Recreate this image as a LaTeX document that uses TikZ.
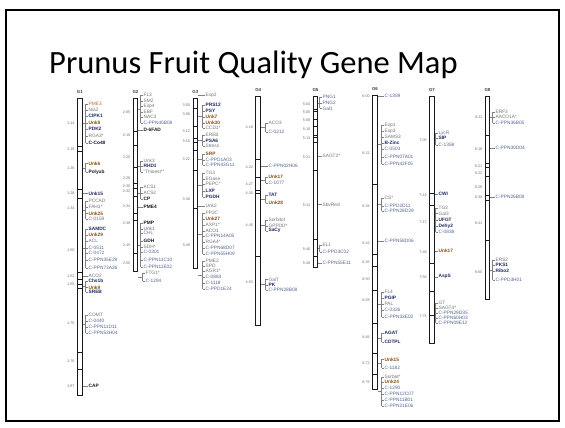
\documentclass[tikz,border=0pt]{standalone}
\usepackage{fontspec}
\setmainfont{Liberation Sans}
\newfontfamily\titlefont{Carlito}
\usepackage{xcolor}
\definecolor{mapblack}{RGB}{25,25,35}
\definecolor{mapnavy}{RGB}{30,40,100}
\definecolor{mapbrown}{RGB}{140,75,20}
\definecolor{maporange}{RGB}{190,100,50}
\definecolor{mapgray}{RGB}{115,115,115}
\definecolor{mapblue}{RGB}{85,100,145}
\usetikzlibrary{positioning, calc}
% one bracket of marker names next to a chromosome
\newcommand{\markset}[5]{%
  \foreach \y/\t/\s [count=\i] in {#5} {
    \node[marker, \s] (#1\i) at (#3,\y) {\t};
    \draw[link] (#1\i.west) -- ++(-2.4pt,0);
  }
  \draw[link] ([xshift=-2.4pt]#11.west) -- ([xshift=-2.4pt]#1#4.west);
  \coordinate (#1m) at ($(#11.west)!0.5!(#1#4.west)$);
  \draw[link] (#2.east |- #1m) -- ([xshift=-2.4pt]#1m);
}

\begin{document}
\begin{tikzpicture}[
    x=1pt, y=-1pt,
    frame/.style={draw=black, line width=1.6pt},
    chrom/.style={draw=mapblack, fill=white, line width=0.95pt, minimum width=4.5pt, inner sep=0pt},
    seg/.style={draw=mapblack, line width=0.5pt},
    grp/.style={font=\fontsize{4.4}{5}\selectfont\bfseries, text=mapblack!85, inner sep=0pt},
    binpos/.style={anchor=east, xshift=-2pt, font=\fontsize{3.8}{4}\selectfont, text=mapgray, inner sep=0.3pt},
    marker/.style={anchor=west, font=\fontsize{4.8}{5}\selectfont, inner sep=0.4pt, text=mapgray},
    dk/.style={text=mapblack, font=\fontsize{4.8}{5}\selectfont\bfseries},
    nv/.style={text=mapnavy, font=\fontsize{4.8}{5}\selectfont\bfseries},
    bn/.style={text=mapbrown, font=\fontsize{4.8}{5}\selectfont\bfseries},
    og/.style={text=maporange},
    gy/.style={text=mapgray},
    bu/.style={text=mapblue},
    link/.style={draw=mapgray!90, line width=0.35pt},
  ]
    \useasboundingbox (0,0) rectangle (565,428);
    \draw[frame] (6,10) rectangle (559,421);

    % --- Title ---
    \node[anchor=base west, inner sep=0pt, font=\titlefont\fontsize{32.5}{36}\selectfont] (title) at (49,74)
      {Prunus Fruit Quality Gene Map};

    % --- Chromosome bars ---
    \node[chrom, minimum height=297pt]   (g1bar) at (79.8,246.5) {};
    \node[chrom, minimum height=173.4pt] (g2bar) at (135.5,185) {};
    \node[chrom, minimum height=170pt]   (g3bar) at (195.3,183) {};
    \node[chrom, minimum height=229pt]   (g4bar) at (258.2,210.5) {};
    \node[chrom, minimum height=171.3pt] (g5bar) at (315.5,181.7) {};
    \node[chrom, minimum height=294pt]   (g6bar) at (375,242) {};
    \node[chrom, minimum height=247.3pt] (g7bar) at (432,219.7) {};
    \node[chrom, minimum height=203.3pt] (g8bar) at (487.5,198.3) {};

    \foreach \g in {1,...,8}
      \node[grp, above=4pt of g\g bar.north] (g\g) {G\g};

    % --- Bin boundaries ---
    \foreach \y in {146.7,151.7,189.3,198.3,272.7,279.3,284.3,288.3,352.7,369.3}
      \draw[seg] (g1bar.west |- 0,\y) -- (g1bar.east |- 0,\y);
    \foreach \y in {131,145,167,183,188,196,213,220.7,253.3}
      \draw[seg] (g2bar.west |- 0,\y) -- (g2bar.east |- 0,\y);
    \foreach \y in {108.3,126.7,138.3,142,150,170,208}
      \draw[seg] (g3bar.west |- 0,\y) -- (g3bar.east |- 0,\y);
    \foreach \y in {159,177.3,190,193.3,256}
      \draw[seg] (g4bar.west |- 0,\y) -- (g4bar.east |- 0,\y);
    \foreach \y in {109.3,111.7,119.3,126.7,135,137.3,142.7,170.7,239.3,256.7}
      \draw[seg] (g5bar.west |- 0,\y) -- (g5bar.east |- 0,\y);
    \foreach \y in {184,254.3,266.7,290,323.3,353.3,374.3}
      \draw[seg] (g6bar.west |- 0,\y) -- (g6bar.east |- 0,\y);
    \foreach \y in {193.3,205,263.3,291.7,315}
      \draw[seg] (g7bar.west |- 0,\y) -- (g7bar.east |- 0,\y);
    \foreach \y in {135,163.3,167.7,176.7,195,200,240}
      \draw[seg] (g8bar.west |- 0,\y) -- (g8bar.east |- 0,\y);

    % --- Bin positions (left of bars) ---
    \foreach \y/\t [count=\i] in {122.7/1:14,149/1:18,168/1:26,193/1:28,208/1:34,250/1:50,275.7/1:52,284/1:55,323/1:70,361/1:76,385.7/1:87}
      \node[binpos] (g1p\i) at (g1bar.west |- 0,\y) {\t};
    \foreach \y/\t [count=\i] in {112/2:05,135/2:10,156.7/2:20,178/2:26,186/2:30,191/2:32,206/2:34,222.7/2:38,245/2:45,262.7/2:50}
      \node[binpos] (g2p\i) at (g2bar.west |- 0,\y) {\t};
    \foreach \y/\t [count=\i] in {105/3:00,114/3:06,130.7/3:12,141/3:16,159.3/3:22,199.3/3:36,245/3:49}
      \node[binpos] (g3p\i) at (g3bar.west |- 0,\y) {\t};
    \foreach \y/\t [count=\i] in {126.7/4:18,167.3/4:22,184/4:27,192.7/4:30,225/4:45,281.7/4:63}
      \node[binpos] (g4p\i) at (g4bar.west |- 0,\y) {\t};
    \foreach \y/\t [count=\i] in {104/5:04,112.3/5:05,120/5:08,129.3/5:10,138.3/5:13,156.7/5:21,205/5:41,249.3/5:46,262.7/5:48}
      \node[binpos] (g5p\i) at (g5bar.west |- 0,\y) {\t};
    \foreach \y/\t [count=\i] in {96/6:00,153/6:22,206/6:34,243/6:42,262/6:45,279/6:50,300/6:58,337/6:66,363/6:72,382/6:76}
      \node[binpos] (g6p\i) at (g6bar.west |- 0,\y) {\t};
    \foreach \y/\t [count=\i] in {140/7:05,195/7:14,221.7/7:17,252.3/7:46,276.7/7:56,316.7/7:75}
      \node[binpos] (g7p\i) at (g7bar.west |- 0,\y) {\t};
    \foreach \y/\t [count=\i] in {117.3/8:11,149.3/8:18,166/8:21,173.3/8:22,187.3/8:28,197.3/8:30,223.3/8:41,271.7/8:60}
      \node[binpos] (g8p\i) at (g8bar.west |- 0,\y) {\t};

    % --- G1 ---
    \markset{g1a}{g1bar}{88}{7}{104/PME3/og,110/Nia2/gy,116/CIPK1/nv,122.7/Unk8/bn,129/PDK2/nv,136/RGA3*/gy,143.3/C-Co48/dk}
    \markset{g1b}{g1bar}{88}{2}{163.3/Unk6/bn,172.3/Polyub/dk}
    \markset{g1c}{g1bar}{88}{1}{193.3/Unk15/nv}
    \markset{g1d}{g1bar}{88}{4}{200.7/PCCAD/gy,206.7/FAH1*/gy,213.3/Unk25/bn,219.3/C-0159/gy}
    \markset{g1e}{g1bar}{88}{7}{229.3/SAMDC/nv,235/Unk29/bn,241/ACL/gy,247.7/C-0511/bu,253.3/C-0472/bu,260/C-PPN35E29/bu,267.7/C-PPN73A26/bu}
    \markset{g1f}{g1bar}{88}{1}{275.7/ACO2/gy}
    \markset{g1g}{g1bar}{88}{3}{280.7/Chs1b/nv,287.3/Unk9/bn,292.3/SREB/nv}
    \markset{g1h}{g1bar}{88}{4}{315/COMT/gy,321/C-0440/bu,326.7/C-PPN11D11/bu,333.3/C-PPN53H04/bu}
    \markset{g1i}{g1bar}{88}{1}{385.7/CAP/dk}

    % --- G2 ---
    \markset{g2a}{g2bar}{143}{6}{95/FL3/gy,100.7/SM2/gy,106/Exp4/gy,111.7/EBF/gy,117.3/NAC3/gy,123.3/C-PPN40B08/bu}
    \markset{g2b}{g2bar}{143}{1}{130/D-6FAD/dk}
    \markset{g2c}{g2bar}{143}{3}{161/Unk3/gy,166/RHD1/nv,171.7/"Thioest*"/gy}
    \markset{g2d}{g2bar}{143}{3}{187.3/ACS1/gy,193.3/ACS2/gy,199/CP/dk}
    \markset{g2e}{g2bar}{143}{1}{206.7/PME4/dk}
    \markset{g2f}{g2bar}{143}{8}{222.7/PMP/dk,229/Unk1/bu,233.3/CHL/gy,240.7/GDH/dk,246.7/SDH*/gy,252.3/C-0301/bu,260/C-PPN11C10/bu,266.7/C-PPN11E02/bu}
    \markset{g2g}{g2bar}{145}{2}{272.7/FTG1*/gy,281/C-1294/bu}

    % --- G3 ---
    \markset{g3a}{g3bar}{205}{1}{95/Exp2/gy}
    \markset{g3b}{g3bar}{205}{5}{105/PRS12/nv,110.7/PSY/nv,116.7/Unk7/bn,122.7/Unk30/bn,128.3/CCD1*/gy}
    \markset{g3c}{g3bar}{205}{3}{135/EREB/gy,140.7/PSA6/nv,146/Stress/gy}
    \markset{g3d}{g3bar}{205}{3}{154/SRP/bn,160/C-PPD1A03/bu,165/C-PPN43G11/bu}
    \markset{g3e}{g3bar}{205}{5}{173.3/TG3/gy,179/EGase/gy,184.3/PEPC*/gy,190.7/LXP/nv,196.7/PGDH/nv}
    \markset{g3f}{g3bar}{205}{1}{206/Unk2/gy}
    \markset{g3g}{g3bar}{205}{8}{213.3/PP2C/gy,219/Unk27/bn,225/AXP1*/gy,230.7/ACO1/bu,236/C-PPN14A05/bu,242.3/RGA4*/gy,248.3/C-PPN68D07/bu,254.3/C-PPN55H09/bu}
    \markset{g3h}{g3bar}{205}{6}{261/PME2/gy,266/SPD/gy,271/AGR1*/gy,276.7/C-0883/bu,282.7/C-1118/bu,289.3/C-PPD1E24/bu}

    % --- G4 ---
    \markset{g4a}{g4bar}{268}{2}{123.3/ACO3/gy,131.7/C-0212/bu}
    \markset{g4b}{g4bar}{268}{1}{166/C-PPN02H06/bu}
    \markset{g4c}{g4bar}{268}{2}{176.7/Unk17/bn,183.3/C-1077/bu}
    \markset{g4d}{g4bar}{268}{2}{195.3/TAT/nv,202.7/Unk28/bn}
    \markset{g4e}{g4bar}{268}{3}{220/Sorbitol/gy,225.7/GPPDD*/gy,230.7/SaCy/nv}
    \markset{g4f}{g4bar}{268}{3}{279.3/GalT/gy,285/PK/nv,290/C-PPN28B08/bu}

    % --- G5 ---
    \markset{g5a}{g5bar}{322}{3}{97.3/PNG1/bu,102.7/PNG2/bu,108.3/Gal1/bu}
    \markset{g5b}{g5bar}{322}{1}{156/SAGT2*/gy}
    \markset{g5c}{g5bar}{322}{1}{204.3/SbvRed/gy}
    \markset{g5d}{g5bar}{322}{2}{245/EL1/gy,251.7/C-PPD3C02/bu}
    \markset{g5e}{g5bar}{322}{1}{262.7/C-PPN55E11/bu}

    % --- G6 ---
    \markset{g6a}{g6bar}{384}{1}{96/C-1359/bu}
    \markset{g6b}{g6bar}{384}{7}{125/Exp1/gy,131/Exp3/gy,136.7/SAMS3/gy,142.7/B-Zinc/nv,149/C-0503/bu,156.7/C-PPN07A01/bu,164/C-PPN42F05/bu}
    \markset{g6c}{g6bar}{384}{3}{198.3/CS*/gy,206/C-PPD2D11/bu,211/C-PPN28D39/bu}
    \markset{g6d}{g6bar}{384}{1}{241/C-PPN58D06/bu}
    \markset{g6e}{g6bar}{384}{5}{292.3/FL4/gy,297.7/PGIP/nv,304.3/PAL/gy,310/C-0326/bu,316.7/C-PPN33E02/bu}
    \markset{g6f}{g6bar}{384}{2}{333.3/AGAT/nv,342.3/CDTPL/nv}
    \markset{g6g}{g6bar}{384}{2}{359.3/Unk15/bn,367.7/C-1182/bu}
    \markset{g6h}{g6bar}{384}{6}{376.7/Sorbat*/gy,381.7/Unk24/bn,387.7/C-1290/bu,394.3/C-PPN12C07/bu,400.3/C-PPN11B01/bu,406.3/C-PPN21E06/bu}

    % --- G7 ---
    \markset{g7a}{g7bar}{438}{3}{133.3/LycR/gy,138.3/SIP/nv,145/C-1358/bu}
    \markset{g7b}{g7bar}{438}{1}{194/CWI/nv}
    \markset{g7c}{g7bar}{438}{5}{208.3/TG2/gy,213.3/Gal3/gy,220/UFGT/nv,226/Dehy2/nv,231.7/C-0838/bu}
    \markset{g7d}{g7bar}{438}{1}{250.7/Unk17/bn}
    \markset{g7e}{g7bar}{438}{1}{276.7/AspS/nv}
    \markset{g7f}{g7bar}{438}{5}{302.7/GT/gy,308.3/SAGT4*/gy,313.3/C-PPN29D35/bu,318.3/C-PPN60H03/bu,323.3/C-PPN09E12/bu}

    % --- G8 ---
    \markset{g8a}{g8bar}{495}{3}{111.7/ERF3/gy,116.7/AACO1A*/gy,122.7/C-PPN36B05/bu}
    \markset{g8b}{g8bar}{495}{1}{148.3/C-PPN30D04/bu}
    \markset{g8c}{g8bar}{495}{1}{196.7/C-PPN26B08/bu}
    \markset{g8d}{g8bar}{495}{4}{260/ERS2/gy,265/PKS1/nv,270.7/Ribo2/nv,280/C-PPD3H01/bu}
\end{tikzpicture}
\end{document}
